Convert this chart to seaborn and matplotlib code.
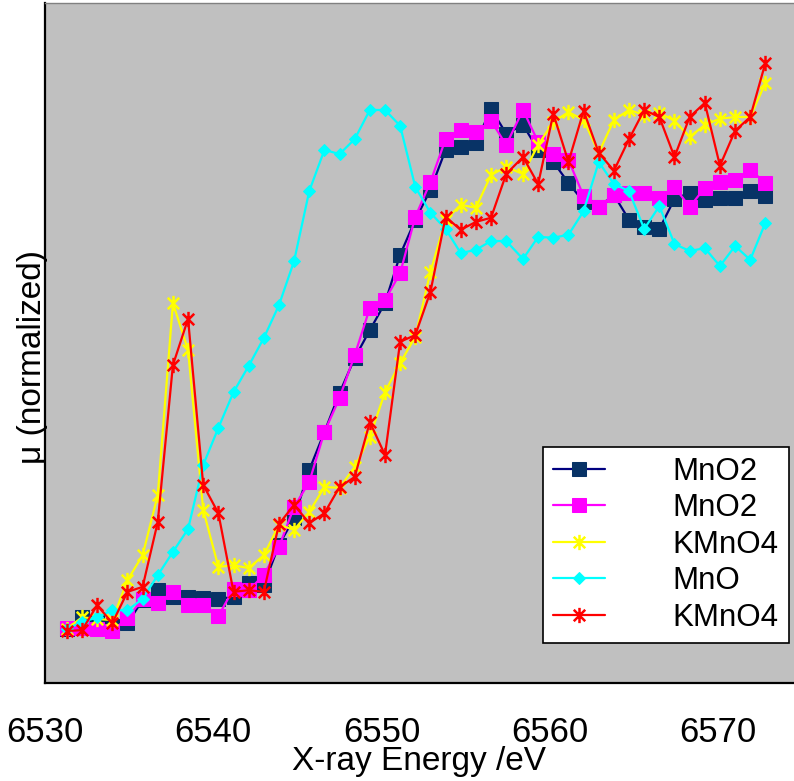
import matplotlib
matplotlib.use('Agg')
import matplotlib.pyplot as plt
from matplotlib.path import Path
import numpy as np
import seaborn as sns

# energies of the scan points (eV)
energy = [6531.3, 6532.2, 6533.1, 6534.0, 6534.9, 6535.8, 6536.7, 6537.6, 6538.5, 6539.4,
          6540.3, 6541.2, 6542.1, 6543.0, 6543.9, 6544.8, 6545.7, 6546.6, 6547.5, 6548.4,
          6549.3, 6550.2, 6551.1, 6552.0, 6552.9, 6553.8, 6554.7, 6555.6, 6556.5, 6557.4,
          6558.4, 6559.3, 6560.2, 6561.1, 6562.0, 6562.9, 6563.8, 6564.7, 6565.6, 6566.5,
          6567.4, 6568.3, 6569.2, 6570.1, 6571.0, 6571.9, 6572.8]

mno2_a = [-0.002, 0.026, 0.014, 0.005, 0.012, 0.067, 0.091, 0.075, 0.075, 0.072,
          0.070, 0.075, 0.108, 0.103, 0.200, 0.264, 0.380, 0.471, 0.565, 0.649,
          0.716, 0.781, 0.897, 0.981, 1.053, 1.149, 1.156, 1.166, 1.248, 1.188,
          1.209, 1.149, 1.120, 1.070, 1.024, 1.012, 1.041, 0.981, 0.964, 0.959,
          1.031, 1.046, 1.029, 1.034, 1.034, 1.050, 1.038]

mno2_b = [0.000, 0.000, -0.002, -0.007, 0.024, 0.070, 0.060, 0.087, 0.055, 0.055,
          0.029, 0.094, 0.091, 0.127, 0.195, 0.291, 0.351, 0.471, 0.553, 0.656,
          0.769, 0.788, 0.853, 0.988, 1.072, 1.175, 1.197, 1.192, 1.219, 1.161,
          1.245, 1.168, 1.139, 1.125, 1.038, 1.012, 1.041, 1.046, 1.046, 1.034,
          1.060, 1.012, 1.058, 1.072, 1.077, 1.101, 1.070]

kmno4_a = [-0.002, 0.026, 0.022, 0.019, 0.115, 0.175, 0.320, 0.781, 0.668, 0.284,
           0.147, 0.151, 0.144, 0.175, 0.248, 0.236, 0.279, 0.339, 0.337, 0.387,
           0.459, 0.567, 0.637, 0.700, 0.856, 0.981, 1.017, 1.010, 1.089, 1.108,
           1.091, 1.161, 1.216, 1.240, 1.221, 1.142, 1.221, 1.245, 1.233, 1.238,
           1.219, 1.180, 1.209, 1.224, 1.228, 1.228, 1.310]

mno = [-0.002, 0.014, 0.026, 0.043, 0.043, 0.070, 0.127, 0.183, 0.238, 0.392,
       0.481, 0.567, 0.630, 0.697, 0.776, 0.882, 1.050, 1.149, 1.139, 1.175,
       1.245, 1.245, 1.207, 1.060, 0.998, 0.959, 0.901, 0.909, 0.930, 0.930,
       0.887, 0.940, 0.938, 0.945, 1.002, 1.120, 1.067, 1.050, 0.959, 1.014,
       0.923, 0.906, 0.913, 0.870, 0.918, 0.885, 0.974]

kmno4_b = [-0.007, -0.005, 0.055, 0.012, 0.087, 0.099, 0.255, 0.632, 0.743, 0.344,
           0.276, 0.087, 0.091, 0.087, 0.250, 0.296, 0.252, 0.276, 0.339, 0.363,
           0.495, 0.416, 0.688, 0.704, 0.808, 0.988, 0.957, 0.976, 0.986, 1.091,
           1.132, 1.067, 1.236, 1.120, 1.243, 1.142, 1.099, 1.175, 1.245, 1.228,
           1.132, 1.228, 1.262, 1.111, 1.195, 1.228, 1.358]

labels = ['MnO2', 'MnO2', 'KMnO4', 'MnO', 'KMnO4']
x_ticks = [6530, 6540, 6550, 6560, 6570]

sns.set_style('white')
plt.rcParams['font.family'] = ['Liberation Sans', 'DejaVu Sans']
plt.rcParams['text.color'] = 'black'
plt.rcParams['axes.labelcolor'] = 'black'
plt.rcParams['xtick.color'] = 'black'
plt.rcParams['ytick.color'] = 'black'

fig = plt.figure(figsize=(7.94, 7.81), dpi=100)
ax = fig.add_axes([45 / 794, 1 - 683 / 781, 749 / 794, 680 / 781])
ax.set_facecolor('#c0c0c0')

# asterisk: vertical bar plus an X
star = Path([(0, -1), (0, 1), (-0.75, -0.75), (0.75, 0.75), (-0.75, 0.75), (0.75, -0.75)],
            [Path.MOVETO, Path.LINETO, Path.MOVETO, Path.LINETO, Path.MOVETO, Path.LINETO])

styles = [
    dict(color='#000080', marker='s', markersize=9.5, markerfacecolor='#083366', markeredgecolor='#083366'),
    dict(color='#ff00ff', marker='s', markersize=9.5, markerfacecolor='#ff00ff', markeredgecolor='#ff00ff'),
    dict(color='#ffff00', marker=star, markersize=11, markeredgewidth=1.8, markeredgecolor='#ffff00'),
    dict(color='#00ffff', marker='D', markersize=6.5, markerfacecolor='#00ffff', markeredgecolor='#00ffff'),
    dict(color='#ff0000', marker=star, markersize=11, markeredgewidth=1.8, markeredgecolor='#ff0000'),
]

for vals, lab, st in zip([mno2_a, mno2_b, kmno4_a, mno, kmno4_b], labels, styles):
    sns.lineplot(x=energy, y=vals, ax=ax, label=lab, linewidth=1.6,
                 sort=False, errorbar=None, **st)

ax.set_xlim(6530, 6574.5)
ax.set_ylim(-0.132, 1.502)
ax.set_xticks(x_ticks)
ax.set_yticks(np.arange(0.12, 1.4, 0.25))

ax.tick_params(axis='x', direction='in', length=11, width=1, color='black',
               labelsize=25, pad=23.5, labelcolor='black')
ax.tick_params(axis='y', direction='in', length=11, width=1, color='black',
               labelleft=False)

for side in ['left', 'bottom']:
    ax.spines[side].set_color('black')
    ax.spines[side].set_linewidth(1.6)
ax.spines['top'].set_color('#808080')
ax.spines['top'].set_linewidth(1)
ax.spines['right'].set_visible(False)

ax.set_xlabel('X-ray Energy /eV', fontsize=24, color='black')
ax.xaxis.set_label_coords(0.5, -0.092)
ax.set_ylabel('μ (normalized)', fontsize=24, color='black')
ax.yaxis.set_label_coords(0.004, 0.48)

leg = ax.legend(loc='lower right', bbox_to_anchor=(0.993, 0.059), fontsize=22.5,
                frameon=True, fancybox=False, edgecolor='black', framealpha=1,
                handlelength=1.66, handletextpad=2.18, borderpad=0.32,
                labelspacing=0.21, borderaxespad=0)
leg.get_frame().set_linewidth(1.2)
leg.get_frame().set_facecolor('white')
for t in leg.get_texts():
    t.set_color('black')

fig.savefig('out.png', dpi=100)
